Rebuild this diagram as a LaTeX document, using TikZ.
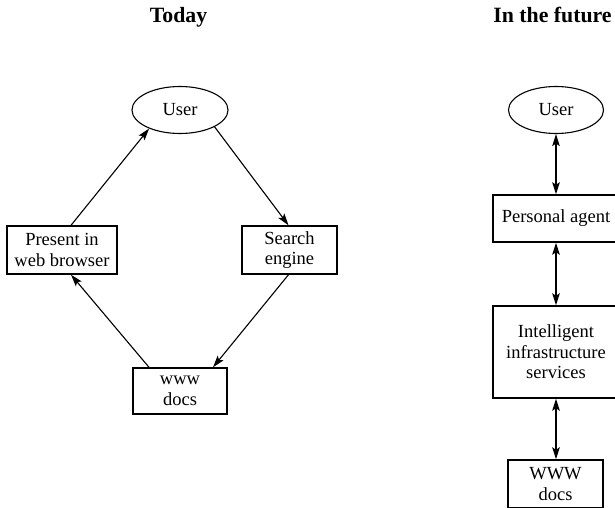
\documentclass[tikz,border=0pt]{standalone}
\usepackage{fontspec}
\setmainfont{Liberation Serif}
\usetikzlibrary{shapes.geometric,arrows.meta,calc}
\begin{document}
\begin{tikzpicture}[x=1pt,y=-1pt,
  txt/.style={font=\fontsize{18.5}{20.5}\selectfont, align=center, inner sep=0pt},
  title/.style={font=\fontsize{21.8}{24}\selectfont\bfseries, inner sep=0pt, anchor=base},
  boxnode/.style={txt, draw, line width=1.4pt, rectangle},
  usernode/.style={txt, draw, line width=1.1pt, ellipse, minimum width=96pt, minimum height=47pt},
  tip/.style={Stealth[length=12pt,width=7.5pt,inset=2.5pt]},
  conn/.style={line width=1.1pt, -{Stealth[length=12pt,width=7.5pt,inset=2.5pt]}},
  dbl/.style={line width=1.6pt, {Stealth[length=12pt,width=7.5pt,inset=2.5pt]}-{Stealth[length=12pt,width=7.5pt,inset=2.5pt]}}
]
\useasboundingbox (0,0) rectangle (615,508);
\fill[white] (0,0) rectangle (615,508);

% titles
\node[title] (tleft) at (178.5,23) {Today};
\node[title] (tright) at (552.5,23) {In the future};

% Today
\node[usernode] (userL) at (180,110) {User};
\node[boxnode, minimum width=110pt, minimum height=48pt] (present) at (62,250) {Present in\\web browser};
\node[boxnode, minimum width=95pt, minimum height=48pt] (search) at (289.5,250) {Search\\engine};
\node[boxnode, minimum width=94pt, minimum height=46pt] (wwwL) at (180,391) {www\\docs};

\draw[conn] ($(present.north)+(9,0)$) -- (userL.211);
\draw[conn] (userL.334) -- ($(search.north)+(-1,0)$);
\draw[conn] ($(search.south)+(-1,0)$) -- ($(wwwL.north)+(33,0)$);
\draw[conn] ($(wwwL.north)+(-31,0)$) -- ($(present.south)+(9,0)$);

% In the future
\node[usernode, minimum width=95pt] (userR) at (556,110) {User};
\node[boxnode, minimum width=126pt, minimum height=47pt] (agent) at (556,218.5) {Personal agent};
\node[boxnode, minimum width=126pt, minimum height=92pt] (intel) at (556,352) {Intelligent\\infrastructure\\services};
\node[boxnode, minimum width=95pt, minimum height=48pt] (wwwR) at (555.5,484) {WWW\\docs};

\draw[dbl] (userR.south) -- (agent.north);
\draw[dbl] (agent.south) -- (intel.north);
\draw[dbl] (intel.south) -- (wwwR.north -| intel.south);
\end{tikzpicture}
\end{document}
